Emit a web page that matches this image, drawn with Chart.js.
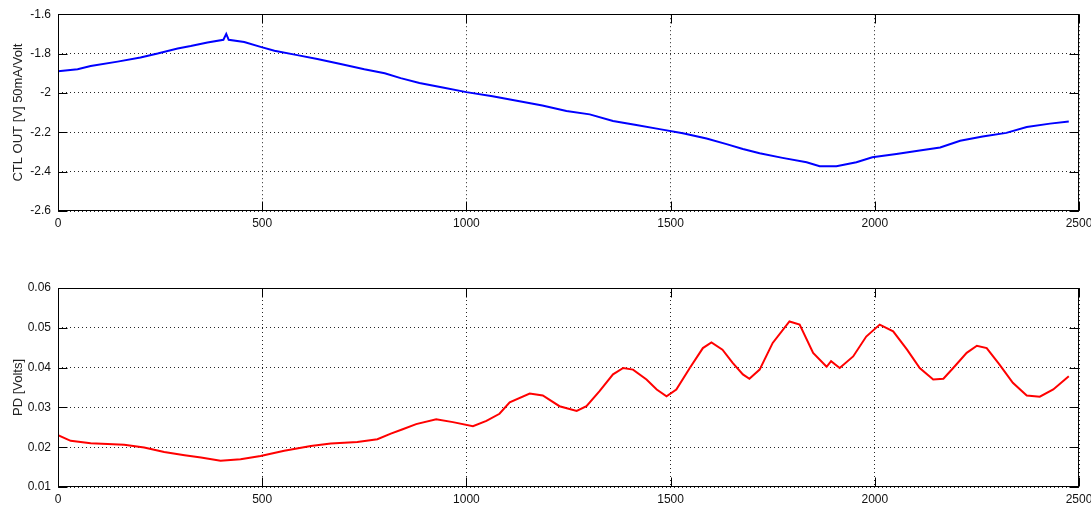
<!DOCTYPE html>
<html>
<head>
<meta charset="utf-8">
<script src="https://cdn.jsdelivr.net/npm/chart.js@4"></script>
<style>
  body { margin: 0; background: #fff; }
  .box { position: absolute; left: 0; }
</style>
</head>
<body>
<div class="box" style="top:0"><canvas id="top" width="1091" height="232"></canvas></div>
<div class="box" style="top:270px"><canvas id="bottom" width="1091" height="238"></canvas></div>
<script>
// CTL OUT trace
const ctlX = [0, 48, 80, 146, 202, 244, 293, 325, 366, 405, 412, 418, 456, 496, 530, 586, 635, 692, 750, 800, 839,
  885, 942, 1000, 1064, 1130, 1186, 1245, 1302, 1359, 1416, 1473, 1530, 1588, 1637, 1677, 1718, 1774, 1833, 1865,
  1906, 1955, 1994, 2053, 2110, 2160, 2209, 2264, 2322, 2372, 2429, 2475];
const ctlY = [-1.89, -1.88, -1.863, -1.841, -1.82, -1.80, -1.774, -1.762, -1.744, -1.73, -1.70, -1.73, -1.741, -1.766,
  -1.786, -1.808, -1.828, -1.853, -1.88, -1.90, -1.925, -1.95, -1.972, -1.996, -2.017, -2.042, -2.064, -2.092, -2.109,
  -2.143, -2.163, -2.184, -2.205, -2.232, -2.26, -2.285, -2.307, -2.33, -2.352, -2.373, -2.372, -2.352, -2.327, -2.31,
  -2.293, -2.277, -2.243, -2.222, -2.203, -2.173, -2.156, -2.145];

// PD trace
const pdX = [0, 31, 80, 162, 211, 260, 310, 350, 398, 447, 496, 554, 619, 668, 733, 782, 815, 844, 877, 926, 967, 1016,
  1049, 1081, 1106, 1155, 1187, 1228, 1270, 1294, 1326, 1359, 1384, 1408, 1441, 1466, 1490, 1514, 1547, 1579, 1600,
  1627, 1652, 1677, 1693, 1718, 1750, 1791, 1816, 1849, 1882, 1893, 1914, 1947, 1979, 2012, 2045, 2079, 2110, 2143,
  2168, 2192, 2225, 2250, 2274, 2305, 2338, 2372, 2404, 2437, 2475];
const pdY = [0.0230, 0.0216, 0.0210, 0.0206, 0.0199, 0.0188, 0.0180, 0.0174, 0.0166, 0.0170, 0.0178, 0.0191, 0.0203,
  0.0209, 0.0213, 0.0220, 0.0234, 0.0245, 0.0258, 0.0270, 0.0263, 0.0253, 0.0266, 0.0284, 0.0313, 0.0335, 0.0330,
  0.0303, 0.0291, 0.0303, 0.0341, 0.0383, 0.0399, 0.0395, 0.0370, 0.0345, 0.0328, 0.0345, 0.0399, 0.0449, 0.0463,
  0.0445, 0.0412, 0.0383, 0.0372, 0.0395, 0.0462, 0.0516, 0.0508, 0.0437, 0.0402, 0.0416, 0.0399, 0.0428, 0.0478,
  0.0508, 0.0491, 0.0445, 0.0399, 0.0370, 0.0372, 0.0399, 0.0437, 0.0455, 0.0449, 0.0408, 0.0362, 0.0330, 0.0327,
  0.0345, 0.0378];

const xTickLabels = ['0', '500', '1000', '1500', '2000', '2500'];
const ctlTickLabels = ['-2.6', '-2.4', '-2.2', '-2', '-1.8', '-1.6'];
const pdTickLabels = ['0.01', '0.02', '0.03', '0.04', '0.05', '0.06'];

const font = { family: 'Liberation Sans, Arial, sans-serif', size: 12 };
const titleFont = { family: 'Liberation Sans, Arial, sans-serif', size: 13 };

// matlab style box with inward ticks
const frame = {
  id: 'frame',
  afterDatasetsDraw(chart) {
    const { ctx, chartArea: a, scales: { x, y } } = chart;
    const L = Math.round(a.left) + 0.5, R = Math.round(a.right) - 0.5;
    const T = Math.round(a.top) + 0.5, B = Math.round(a.bottom) - 0.5;
    ctx.save();
    ctx.strokeStyle = '#000';
    ctx.lineWidth = 1;
    ctx.beginPath();
    x.ticks.forEach(t => {
      const p = Math.round(x.getPixelForValue(t.value)) + 0.5;
      ctx.moveTo(p, B); ctx.lineTo(p, B - 9);
      ctx.moveTo(p, T); ctx.lineTo(p, T + 9);
    });
    y.ticks.forEach(t => {
      const p = Math.round(y.getPixelForValue(t.value)) + 0.5;
      ctx.moveTo(L, p); ctx.lineTo(L + 9, p);
      ctx.moveTo(R, p); ctx.lineTo(R - 9, p);
    });
    ctx.stroke();
    ctx.strokeRect(L, T, R - L, B - T);
    ctx.restore();
  }
};

function makeChart(id, xs, ys, color, yMin, yMax, step, yLabels, title, padTop) {
  new Chart(document.getElementById(id), {
    type: 'line',
    data: {
      datasets: [{
        data: xs.map((v, i) => ({ x: v, y: ys[i] })),
        borderColor: color,
        borderWidth: 2,
        pointRadius: 0,
        tension: 0
      }]
    },
    options: {
      responsive: false,
      animation: false,
      layout: { padding: { top: padTop, right: 12, left: 0, bottom: 0 } },
      plugins: { legend: { display: false }, tooltip: { enabled: false } },
      scales: {
        x: {
          type: 'linear', min: 0, max: 2500,
          border: { display: false, dash: [1, 3] },
          grid: { color: 'rgba(0,0,0,0.85)', drawTicks: false },
          ticks: {
            stepSize: 500, color: '#111', font, padding: 5, maxRotation: 0,
            callback: (v, i) => xTickLabels[i]
          },
          afterFit(s) { s.height = 21; s.paddingRight = 0; s.paddingLeft = 0; }
        },
        y: {
          min: yMin, max: yMax,
          border: { display: false, dash: [1, 3] },
          grid: { color: 'rgba(0,0,0,0.85)', drawTicks: false },
          ticks: {
            stepSize: step, color: '#111', font, padding: 7,
            callback: (v, i) => yLabels[i]
          },
          title: { display: true, text: title, color: '#222', font: titleFont, padding: { top: 11, bottom: 0 } },
          afterFit(s) { s.width = 58; }
        }
      }
    },
    plugins: [frame]
  });
}

makeChart('top', ctlX, ctlY, '#0000ff', -2.6, -1.6, 0.2, ctlTickLabels, 'CTL OUT [V] 50mA/Volt', 12);
makeChart('bottom', pdX, pdY, '#ff0000', 0.01, 0.06, 0.01, pdTickLabels, 'PD [Volts]', 18);
</script>
</body>
</html>
